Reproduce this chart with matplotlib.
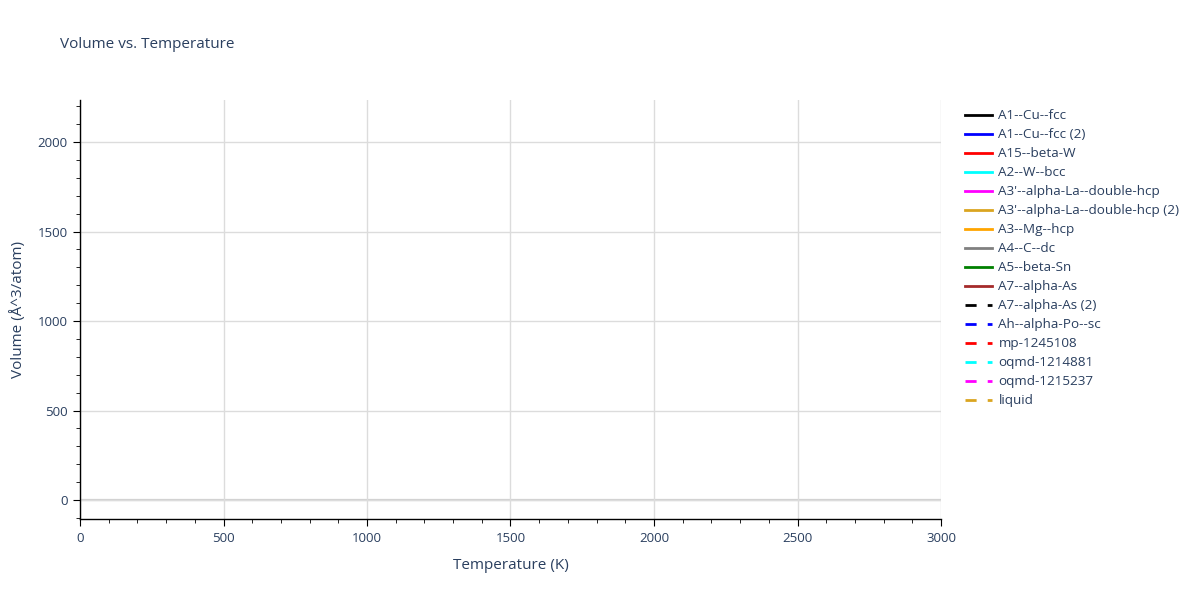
import matplotlib.pyplot as plt
import numpy as np

# Series names and styles (all series are empty in the reference)
names = ['A1--Cu--fcc', 'A1--Cu--fcc (2)', 'A15--beta-W', 'A2--W--bcc',
         "A3'--alpha-La--double-hcp", "A3'--alpha-La--double-hcp (2)",
         'A3--Mg--hcp', 'A4--C--dc', 'A5--beta-Sn', 'A7--alpha-As',
         'A7--alpha-As (2)', 'Ah--alpha-Po--sc', 'mp-1245108',
         'oqmd-1214881', 'oqmd-1215237', 'liquid']
colors = ['black', 'blue', 'red', 'cyan', 'magenta', 'goldenrod', 'orange',
          'gray', 'green', 'brown', 'black', 'blue', 'red', 'cyan',
          'magenta', 'goldenrod']
dashed = [False] * 10 + [True] * 6

# No data points visible: every series is empty
temperatures = [[] for _ in names]
volumes = [[] for _ in names]

text_color = '#2a3f5f'
plt.rcParams['font.family'] = ['Open Sans', 'DejaVu Sans']

fig = plt.figure(figsize=(12, 6), dpi=100)
ax = fig.add_axes([80 / 1200, 1 - 519 / 600, 861 / 1200, 419 / 600])

for name, c, d, t, v in zip(names, colors, dashed, temperatures, volumes):
    ax.plot(t, v, color=c, lw=2, linestyle=(0, (4, 4)) if d else '-', label=name)

ax.set_xlim(0, 3000)
ax.set_ylim(-106, 2235)
ax.set_xticks(np.arange(0, 3001, 500))
ax.set_xticks(np.arange(0, 3001, 100), minor=True)
ax.set_yticks(np.arange(0, 2001, 500))
ax.set_yticks(np.arange(-100, 2201, 100), minor=True)

ax.grid(True, which='major', color='#dcdcdc', lw=1)
ax.axhline(0, color='#d0d0d0', lw=1.6, zorder=0.5)
ax.set_axisbelow(True)

for s in ['top', 'right']:
    ax.spines[s].set_visible(False)
for s in ['left', 'bottom']:
    ax.spines[s].set_color('black')
    ax.spines[s].set_linewidth(1)

ax.tick_params(which='major', direction='out', length=5, color='black',
               labelsize=9.5, labelcolor=text_color, pad=4)
ax.tick_params(which='minor', direction='out', length=3, color='black')

ax.set_xlabel('Temperature (K)', fontsize=11, color=text_color, labelpad=10)
ax.set_ylabel('Volume (Å^3/atom)', fontsize=11, color=text_color, labelpad=8)

fig.text(60 / 1200, 1 - 45 / 600, 'Volume vs. Temperature', fontsize=11,
         color=text_color, va='center', ha='left')

handles, labels = ax.get_legend_handles_labels()
leg = fig.legend(handles, labels, loc='upper left',
                 bbox_to_anchor=(960 / 1200, 1 - 104 / 600), frameon=False,
                 fontsize=9.7, handlelength=2.0, handletextpad=0.45,
                 labelspacing=0.445, borderaxespad=0)
for txt in leg.get_texts():
    txt.set_color(text_color)

fig.savefig('out.png', dpi=100)
